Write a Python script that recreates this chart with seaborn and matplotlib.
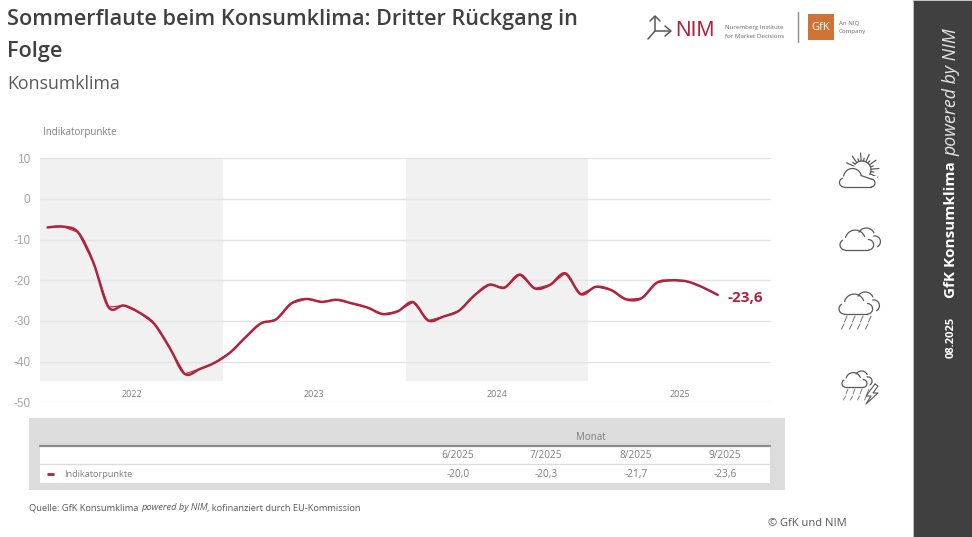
from matplotlib import pyplot as plt
from matplotlib.patches import PathPatch, Rectangle
from matplotlib.path import Path
import numpy as np
import pandas as pd
import seaborn as sns

sns.set_theme(style="white")
plt.rcParams["font.family"] = ["Open Sans", "DejaVu Sans"]
plt.rcParams["axes.unicode_minus"] = False

# monthly values from 1/2022 to 9/2025
werte_2022 = [-7.0, -6.8, -8.2, -15.6, -26.6, -26.2, -27.9, -30.7, -36.5, -43.0, -41.8, -40.2]
werte_2023 = [-37.7, -34.0, -30.6, -29.6, -25.7, -24.6, -25.3, -24.8, -25.7, -26.7, -28.3, -27.6]
werte_2024 = [-25.4, -29.9, -28.9, -27.5, -23.8, -21.1, -21.8, -18.6, -22.0, -21.1, -18.3, -23.4]
werte_2025 = [-21.6, -22.4, -24.7, -24.4, -20.6, -20.0, -20.3, -21.7, -23.6]
jahre = ["2022", "2023", "2024", "2025"]
y_ticks = [10, 0, -10, -20, -30, -40, -50]
tabelle_monate = ["6/2025", "7/2025", "8/2025", "9/2025"]
tabelle_werte = ["-20,0", "-20,3", "-21,7", "-23,6"]

ROT = "#b0233d"
TEXT = "#404040"
GRAU = "#7f7f7f"
ICON = "#595959"
W, H = 972, 537

werte = werte_2022 + werte_2023 + werte_2024 + werte_2025
df = pd.DataFrame({"monat": np.arange(len(werte)) + 0.5, "wert": werte})

fig = plt.figure(figsize=(W / 100, H / 100), dpi=100)
ax = fig.add_axes([40 / W, 1 - 402.3 / H, 731 / W, 244 / H])

# overlay in pixel coordinates for everything around the chart
ov = fig.add_axes([0, 0, 1, 1], zorder=5)
ov.set_xlim(0, W)
ov.set_ylim(H, 0)
ov.axis("off")
ov.patch.set_alpha(0)

# chart
for i in (0, 2):
    ax.axvspan(i * 12, (i + 1) * 12, ymin=5.3 / 60, ymax=1, color="#f1f1f1", lw=0, zorder=0)
sns.lineplot(data=df, x="monat", y="wert", color=ROT, linewidth=0.8, ax=ax, zorder=3,
             solid_capstyle="round")

# the original line is smoothed, so a curve goes through the same monthly values
pts = np.column_stack([df["monat"], df["wert"]])
verts = [tuple(pts[0])]
codes = [Path.MOVETO]
for k in range(len(pts) - 1):
    p0 = pts[max(k - 1, 0)]
    p1 = pts[k]
    p2 = pts[k + 1]
    p3 = pts[min(k + 2, len(pts) - 1)]
    verts += [tuple(p1 + (p2 - p0) / 6), tuple(p2 - (p3 - p1) / 6), tuple(p2)]
    codes += [Path.CURVE4] * 3
ax.add_patch(PathPatch(Path(verts, codes), fc="none", ec=ROT, lw=1.8, capstyle="round", zorder=4))

ax.set_xlim(0, 48)
ax.set_ylim(-50, 10)
ax.set_yticks(y_ticks)
ax.set_xticks([6, 18, 30, 42])
ax.set_xticklabels(jahre)
ax.set_xlabel("")
ax.set_ylabel("")
ax.grid(axis="y", color="#e4e4e4", lw=1, zorder=1)
ax.set_axisbelow(True)
sns.despine(ax=ax, left=True, bottom=True, top=True, right=True)
ax.tick_params(axis="x", length=0, pad=-9.2, labelsize=6.5, labelcolor=GRAU)
ax.tick_params(axis="y", length=0, pad=7, labelsize=8.5, labelcolor="#a6a6a6")
for t in ax.get_yticklabels():
    t.set_family("Liberation Sans")
ax.annotate("-23,6", (df["monat"].iloc[-1], werte[-1]), xytext=(7, -2), textcoords="offset points",
            color=ROT, fontsize=11, fontweight="bold", va="center")

# titles
ov.text(7, 20, "Sommerflaute beim Konsumklima: Dritter Rückgang in", fontsize=15.55,
        fontweight="semibold", color=TEXT, va="center")
ov.text(7, 51.5, "Folge", fontsize=15.55, fontweight="semibold", color=TEXT, va="center")
ov.text(7, 84, "Konsumklima", fontsize=12.8, color="#595959", va="center")
ov.text(43, 132.5, "Indikatorpunkte", fontsize=7, color=GRAU, va="center")

# table
ov.add_patch(Rectangle((28.5, 418), 756.5, 72, fc="#dcdcdc", lw=0))
ov.add_patch(Rectangle((40, 446), 730, 37, fc="white", lw=0))
ov.plot([40, 770], [446, 446], color="#8c8c8c", lw=1.6)
ov.plot([40, 770], [464, 464], color="#dcdcdc", lw=1)
ov.text(591, 437.5, "Monat", fontsize=7, color=GRAU, ha="center", va="center")
ov.plot([47, 54], [474, 474], color=ROT, lw=2, solid_capstyle="butt")
ov.text(64, 474.5, "Indikatorpunkte", fontsize=6.6, color=GRAU, va="center")
for xc, m, v in zip([458, 546, 636, 725], tabelle_monate, tabelle_werte):
    ov.text(xc, 456, m, fontsize=7.3, color=GRAU, ha="center", va="center")
    ov.text(xc, 474.5, v, fontsize=7.3, color=GRAU, ha="center", va="center")

src = ov.text(29, 508, "Quelle: GfK Konsumklima ", fontsize=6.7, color="#595959", va="center")
src2 = ov.annotate("powered by NIM", xycoords=src, xy=(1, 0.5), va="center", fontsize=6.7,
                   style="italic", color="#595959")
ov.annotate(", kofinanziert durch EU-Kommission", xycoords=src2, xy=(1, 0.5), va="center",
            fontsize=6.7, color="#595959")
ov.text(847, 523, "© GfK und NIM", fontsize=8, color="#595959", ha="right", va="center")

# dark side panel
ov.add_patch(Rectangle((913, 0), 59, H, fc="#404040", ec="#c8c8c8", lw=0.6))
ov.text(951, 298, "GfK Konsumklima", rotation=90, fontsize=11, fontweight="bold", color="white",
        ha="center", va="bottom")
ov.text(951, 156, "powered by NIM", rotation=90, fontsize=12.8, style="italic", color="#e8e8e8",
        ha="center", va="bottom")
ov.text(951, 358, "08.2025", rotation=90, fontsize=8, fontweight="bold", color="white",
        ha="center", va="bottom")

# logos
ov.plot([648, 655, 670], [39, 31, 31], color=ICON, lw=1.1)
ov.plot([655, 655], [31, 17], color=ICON, lw=1.1)
ov.plot([650, 655, 660], [21, 16, 21], color=ICON, lw=1.1)
ov.plot([665, 671, 665], [26, 31, 36], color=ICON, lw=1.1)
ov.text(675, 31, "NIM", fontsize=15.5, color=ROT, va="center", family="Liberation Sans")
ov.text(725, 28, "Nuremberg Institute", fontsize=4.4, color="#666666", va="center")
ov.text(725, 36, "for Market Decisions", fontsize=4.4, color="#666666", va="center")
ov.plot([797.5, 797.5], [12, 42], color="#8c8c8c", lw=1)
ov.add_patch(Rectangle((808, 14), 26, 26, fc="#cf7238", lw=0))
ov.text(821, 28, "GfK", fontsize=8, color="white", ha="center", va="center")
ov.text(839, 23, "An NIQ", fontsize=4.4, color="#666666", va="center")
ov.text(839, 31, "Company", fontsize=4.4, color="#666666", va="center")


# weather icons
def arc(cx, cy, r, a0, a1):
    a = np.radians(np.linspace(a0, a1, 30))
    return np.column_stack([cx + r * np.cos(a), cy - r * np.sin(a)])


def cloud(x0, y0, s):
    parts = [arc(5, 16, 5, 270, 120), arc(14.5, 11.5, 9.5, 165, 20), arc(27, 16, 5, 90, -90),
             np.array([[27, 21], [5, 21]]), arc(25, 8, 8, 150, 25), arc(33, 13, 5.5, 100, -60)]
    for p in parts:
        ov.plot(x0 + s * p[:, 0], y0 + s * p[:, 1], color=ICON, lw=0.9)


# sun behind the first cloud: star of rays around a disc
sonne_x, sonne_y = 862, 170
for a in np.arange(-25, 175, 15):
    r1 = 17 if (a + 25) % 30 == 0 else 12
    ca, sa = np.cos(np.radians(a)), np.sin(np.radians(a))
    ov.plot([sonne_x + 9 * ca, sonne_x + r1 * ca], [sonne_y - 9 * sa, sonne_y - r1 * sa],
            color=ICON, lw=0.9)
s = arc(sonne_x, sonne_y, 9, -30, 140)
ov.plot(s[:, 0], s[:, 1], color=ICON, lw=0.9)
ov.add_patch(Rectangle((842, 176), 35, 11, fc="white", lw=0, zorder=3))
d = arc(851, 177, 10, 0, 180)
ov.fill(d[:, 0], d[:, 1], color="white", zorder=3)
for p in [arc(5, 14, 4.5, 270, 110), arc(13.5, 9, 9, 170, 15), arc(32, 14.5, 4, 90, -90),
          np.array([[32, 18.5], [5, 18.5]]), np.array([[22, 7], [32, 10.5]])]:
    ov.plot(839 + p[:, 0], 168.5 + p[:, 1], color=ICON, lw=0.9, zorder=4)

cloud(840, 228, 1.05)
cloud(839, 292, 1.05)
cloud(842, 371, 0.78)

# rain as two rows of short dashes
for xr in [843, 851, 859, 867]:
    ov.plot([xr + 4, xr + 1.5], [316, 322], color=GRAU, lw=0.8)
    ov.plot([xr + 1, xr - 1.5], [324, 329], color=GRAU, lw=0.8)
for xr in [845, 852, 859, 866]:
    ov.plot([xr + 3, xr + 1], [389, 394], color=GRAU, lw=0.7)
    ov.plot([xr + 0.5, xr - 1.5], [396, 400], color=GRAU, lw=0.7)
ov.plot([875, 866, 871, 866, 878, 873, 878, 875], [384, 396, 396, 404, 393, 393, 386, 384],
        color=ICON, lw=0.8)

fig.savefig("out.png", dpi=100)
plt.close(fig)
